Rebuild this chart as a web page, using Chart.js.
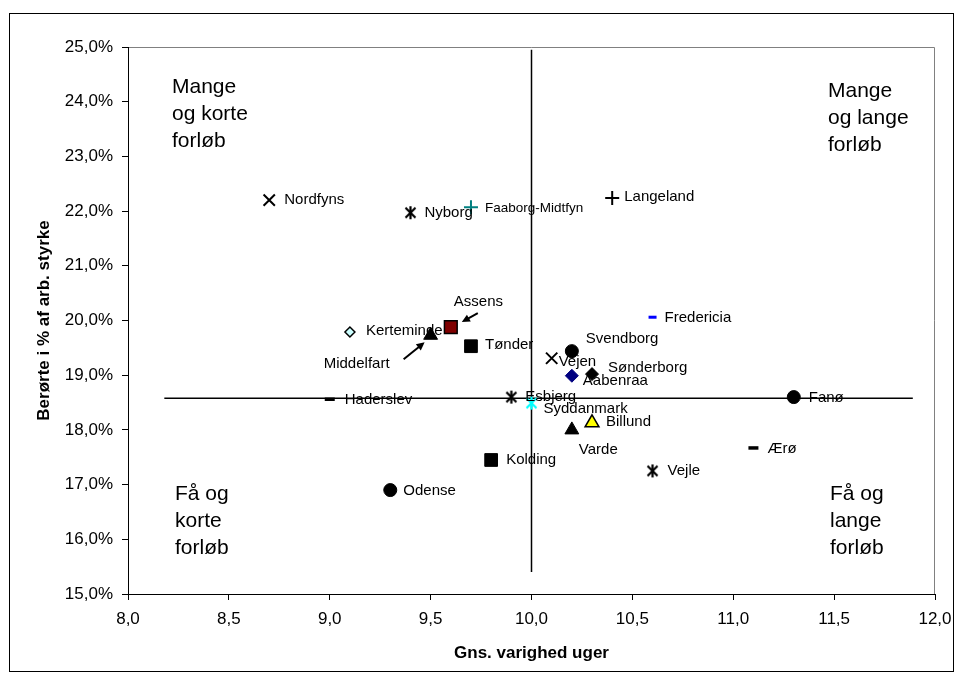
<!DOCTYPE html>
<html>
<head>
<meta charset="utf-8">
<script src="https://cdn.jsdelivr.net/npm/chart.js@4.4.1/dist/chart.umd.min.js"></script>
<style>
  body { margin: 0; background: #fff; }
  #wrap { width: 962px; height: 680px; position: relative; }
</style>
</head>
<body>
<div id="wrap"><canvas id="chart" width="962" height="680"></canvas></div>
<script>
// kommuner (names), gns. varighed i uger (x) and berørte i % af arb. styrke (y)
const names = ['Nordfyns', 'Nyborg', 'Faaborg-Midtfyn', 'Langeland', 'Kerteminde', 'Assens',
  'Middelfart', 'Tønder', 'Svendborg', 'Vejen', 'Aabenraa', 'Sønderborg', 'Fredericia',
  'Fanø', 'Esbjerg', 'Syddanmark', 'Haderslev', 'Billund', 'Varde', 'Ærø', 'Kolding',
  'Vejle', 'Odense']
const weeks = [8.7, 9.4, 9.7, 10.4, 9.1, 9.6, 9.5, 9.7, 10.2, 10.1, 10.2, 10.3, 10.6,
  11.3, 9.9, 10.0, 9.0, 10.3, 10.2, 11.1, 9.8, 10.6, 9.3]
const share = [22.2, 21.97, 22.07, 22.24, 19.79, 19.88, 19.73, 19.53, 19.44, 19.31, 18.99,
  19.02, 20.06, 18.6, 18.6, 18.49, 18.56, 18.13, 18.0, 17.67, 17.45, 17.25, 16.9]

// quadrant divider lines
const avgWeeks = 10.0
const avgShare = 18.58
const hLineX = [8.18, 11.89]
const vLineY = [15.4, 24.95]

const xTicks = { min: 8, max: 12, step: 0.5 }
const yTicks = { min: 15, max: 25, step: 1 }

// excel style asterisk (x with a vertical bar)
function asterisk(color) {
  var c = document.createElement('canvas')
  c.width = 15
  c.height = 15
  var g = c.getContext('2d')
  g.strokeStyle = color
  g.lineWidth = 2.2
  g.beginPath()
  g.moveTo(2.5, 2.5); g.lineTo(12.5, 12.5)
  g.moveTo(12.5, 2.5); g.lineTo(2.5, 12.5)
  g.moveTo(7.5, 1); g.lineTo(7.5, 14)
  g.stroke()
  return c
}
var starBlack = asterisk('#000')
var starCyan = asterisk('#00ffff')

// marker per kommune: [style, fill, border, radius, width]
const markers = [
  ['crossRot', '#000', '#000', 8, 2],
  [starBlack, '#000', '#000', 7, 1],
  ['cross', '#008080', '#008080', 7, 2],
  ['cross', '#000', '#000', 7, 2],
  ['rectRot', '#ccffff', '#000', 5, 1.5],
  ['rect', '#800000', '#000', 9, 1.5],
  ['triangle', '#000', '#000', 8, 1],
  ['rect', '#000', '#000', 9, 1],
  ['circle', '#000', '#000', 6.5, 1],
  ['crossRot', '#000', '#000', 8, 2],
  ['rectRot', '#000080', '#000080', 6.5, 1],
  ['rectRot', '#000', '#000', 6.5, 1],
  ['line', '#0000ff', '#0000ff', 4, 3],
  ['circle', '#000', '#000', 6.5, 1],
  [starBlack, '#000', '#000', 7, 1],
  [starCyan, '#00ffff', '#00ffff', 7, 1],
  ['line', '#000', '#000', 5, 3.5],
  ['triangle', '#ffff00', '#000', 8, 1.5],
  ['triangle', '#000', '#000', 8, 1],
  ['line', '#000', '#000', 5, 3.5],
  ['rect', '#000', '#000', 9, 1],
  [starBlack, '#000', '#000', 7, 1],
  ['circle', '#000', '#000', 6.5, 1]
]

// label offset from marker [dx, dy, align, size]
const labelOffsets = [
  [15, 0, 'left', 15], [14, 0, 'left', 15], [14, 1, 'left', 13.5], [12, -1, 'left', 15],
  [16, -1, 'left', 15], [3, -25, 'left', 15], [-74, 29, 'center', 15], [14, -1, 'left', 15],
  [14, -12, 'left', 15], [7, 4, 'left', 15], [11, 5, 'left', 15], [16, -6, 'left', 15],
  [12, 1, 'left', 15], [15, 1, 'left', 15], [14, 0, 'left', 15], [12, 6, 'left', 15],
  [15, 1, 'left', 15], [14, -1, 'left', 15], [7, 20, 'left', 15], [14, 1, 'left', 15],
  [15, 0, 'left', 15], [15, 0, 'left', 15], [13, 1, 'left', 15]
]

var FONT = '"Liberation Sans", Arial, sans-serif'

var labelPlugin = {
  id: 'labels',
  beforeDraw(chart) {
    var ctx = chart.ctx
    ctx.save()
    ctx.strokeStyle = '#000'
    ctx.lineWidth = 1
    ctx.strokeRect(9.5, 13.5, 944, 658)
    var a = chart.chartArea
    ctx.strokeStyle = '#808080'
    ctx.beginPath()
    ctx.moveTo(a.left, a.top + 0.5)
    ctx.lineTo(a.right - 0.5, a.top + 0.5)
    ctx.lineTo(a.right - 0.5, a.bottom)
    ctx.stroke()
    ctx.restore()
  },
  afterDatasetsDraw(chart) {
    var ctx = chart.ctx
    var meta = chart.getDatasetMeta(0)
    ctx.save()
    ctx.fillStyle = '#000'
    ctx.textBaseline = 'middle'
    meta.data.forEach(function (pt, i) {
      var o = labelOffsets[i]
      ctx.font = o[3] + 'px ' + FONT
      ctx.textAlign = o[2]
      ctx.fillText(names[i], pt.x + o[0], pt.y + o[1])
    })

    // arrows for Assens and Middelfart
    function arrow(x1, y1, x2, y2) {
      var ang = Math.atan2(y2 - y1, x2 - x1)
      ctx.strokeStyle = '#000'
      ctx.lineWidth = 2
      ctx.beginPath()
      ctx.moveTo(x1, y1)
      ctx.lineTo(x2 - Math.cos(ang) * 5, y2 - Math.sin(ang) * 5)
      ctx.stroke()
      ctx.beginPath()
      ctx.moveTo(x2, y2)
      ctx.lineTo(x2 - Math.cos(ang - 0.45) * 9, y2 - Math.sin(ang - 0.45) * 9)
      ctx.lineTo(x2 - Math.cos(ang + 0.45) * 9, y2 - Math.sin(ang + 0.45) * 9)
      ctx.closePath()
      ctx.fill()
    }
    var assens = meta.data[5], middel = meta.data[6]
    arrow(assens.x + 27, assens.y - 14, assens.x + 11, assens.y - 5)
    arrow(middel.x - 27, middel.y + 24, middel.x - 6, middel.y + 7)

    // quadrant texts
    ctx.font = '21px ' + FONT
    ctx.textAlign = 'left'
    ctx.textBaseline = 'alphabetic'
    var a = chart.chartArea
    function block(lines, x, y) {
      lines.forEach(function (t, k) { ctx.fillText(t, x, y + k * 27) })
    }
    block(['Mange', 'og korte', 'forløb'], a.left + 44, a.top + 46)
    block(['Mange', 'og lange', 'forløb'], a.left + 700, a.top + 50)
    block(['Få og', 'korte', 'forløb'], a.left + 47, a.top + 453)
    block(['Få og', 'lange', 'forløb'], a.left + 702, a.top + 453)
    ctx.restore()
  }
}

var tickFont = { family: FONT, size: 17 }
var titleFont = { family: FONT, size: 17, weight: 'bold' }

new Chart(document.getElementById('chart'), {
  type: 'scatter',
  data: {
    datasets: [{
      data: weeks.map(function (w, i) { return { x: w, y: share[i] } }),
      pointStyle: markers.map(m => m[0]),
      backgroundColor: markers.map(m => m[1]),
      borderColor: markers.map(m => m[2]),
      pointRadius: markers.map(m => m[3]),
      borderWidth: markers.map(m => m[4]),
      order: 0
    }, {
      data: hLineX.map(x => ({ x: x, y: avgShare })),
      showLine: true,
      borderColor: '#000',
      borderWidth: 1.5,
      pointRadius: 0,
      order: 1
    }, {
      data: vLineY.map(y => ({ x: avgWeeks, y: y })),
      showLine: true,
      borderColor: '#000',
      borderWidth: 1.5,
      pointRadius: 0,
      order: 1
    }]
  },
  options: {
    responsive: false,
    animation: false,
    layout: { padding: { left: 30, right: 27, top: 47, bottom: 12 } },
    plugins: { legend: { display: false }, tooltip: { enabled: false } },
    scales: {
      x: {
        min: xTicks.min, max: xTicks.max,
        ticks: {
          stepSize: xTicks.step, color: '#000', font: tickFont, padding: 9,
          callback: v => v.toFixed(1).replace('.', ',')
        },
        grid: { drawOnChartArea: false, tickLength: 6, color: '#000' },
        border: { color: '#000', width: 1 },
        title: { display: true, text: 'Gns. varighed uger', color: '#000', font: titleFont, padding: { top: 8 } },
        afterFit: s => { s.height = 74 }
      },
      y: {
        min: yTicks.min, max: yTicks.max,
        ticks: {
          stepSize: yTicks.step, color: '#000', font: tickFont, padding: 9,
          callback: v => v.toFixed(1).replace('.', ',') + '%'
        },
        grid: { drawOnChartArea: false, tickLength: 6, color: '#000' },
        border: { color: '#000', width: 1 },
        title: { display: true, text: 'Berørte i % af arb. styrke', color: '#000', font: titleFont, padding: { bottom: 0 } },
        afterFit: s => { s.width = 98 }
      }
    }
  },
  plugins: [labelPlugin]
})
</script>
</body>
</html>
